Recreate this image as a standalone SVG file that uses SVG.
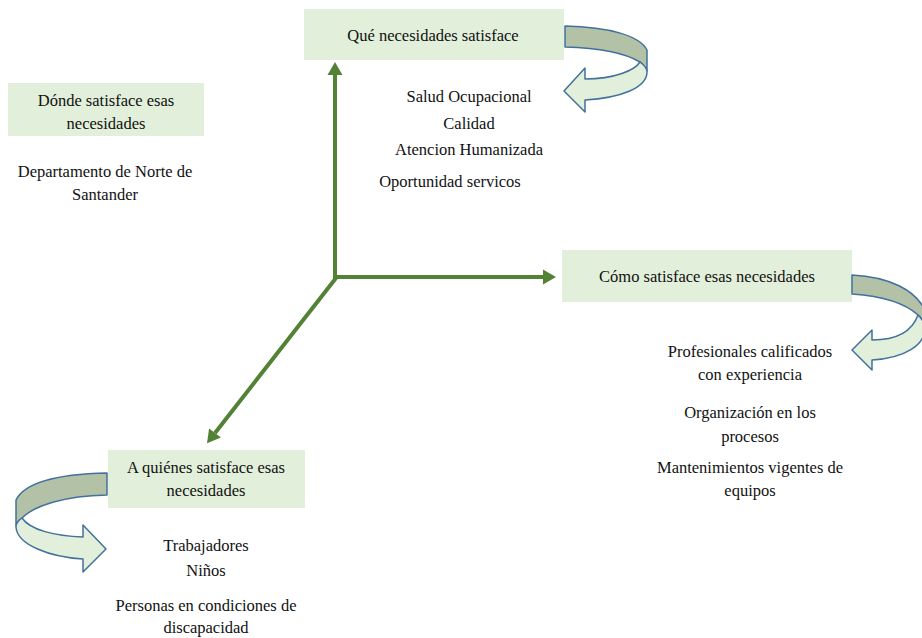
<svg xmlns="http://www.w3.org/2000/svg" width="922" height="638" viewBox="0 0 922 638">
<style>
.box{fill:#e2efda;}
.t{font-family:"Liberation Serif","Times New Roman",serif;font-size:16.5px;fill:#111;text-anchor:middle;}
.axis{stroke:#538135;stroke-width:4;fill:none;}
.dark{fill:#b3c2a7;stroke:#41719c;stroke-width:1.5;stroke-linejoin:round;}
.light{fill:#e2efda;stroke:#41719c;stroke-width:1.5;stroke-linejoin:round;}
</style>
<defs>
<marker id="ah" markerUnits="userSpaceOnUse" markerWidth="14" markerHeight="15" refX="0" refY="7.5" orient="auto" overflow="visible">
<path d="M0,0 L13,7.5 L0,15 z" fill="#538135"/>
</marker>
</defs>
<rect width="922" height="638" fill="#fff"/>

<g id="connectors">
<path class="axis" d="M335,279 L335,75" marker-end="url(#ah)"/>
<path class="axis" d="M333,277 L543,277" marker-end="url(#ah)"/>
<path class="axis" d="M336,278 L215,433" marker-end="url(#ah)"/>
</g>

<g id="que">
<rect class="box" x="304" y="9" width="260" height="51"/>
<text class="t" x="433" y="41">Qué necesidades satisface</text>
<path class="dark" d="M565,26 C610,27 640,36 647,50 L647,71 C645,66 643,64 640,62 C625,53 600,48 565,47 Z"/>
<path class="light" d="M640,62 C644,65 647,68 647,72 C647,88 620,98 585,100 L585,112 L564,91 L585,68 L585,79 C615,79 635,70 640,62 Z"/>
<text class="t" x="469" y="102">Salud Ocupacional</text>
<text class="t" x="469" y="129">Calidad</text>
<text class="t" x="469" y="155">Atencion Humanizada</text>
<text class="t" x="450" y="187">Oportunidad servicos</text>
</g>

<g id="donde">
<rect class="box" x="8" y="83" width="196" height="53"/>
<text class="t" x="106" y="106">Dónde satisface esas</text>
<text class="t" x="106" y="129">necesidades</text>
<text class="t" x="105" y="177">Departamento de Norte de</text>
<text class="t" x="105" y="200">Santander</text>
</g>

<g id="como">
<rect class="box" x="562" y="250" width="290" height="52"/>
<text class="t" x="707" y="282">Cómo satisface esas necesidades</text>
<path class="dark" d="M852,275 C890,277 915,290 925,310 L925,322 C922,319 920,317 918,315 C905,303 880,296 852,294 Z"/>
<path class="light" d="M918,315 C922,319 925,324 925,328 C925,345 905,358 872,360 L872,370 L852,350 L872,330 L872,340 C895,340 912,332 918,315 Z"/>
<text class="t" x="750" y="357">Profesionales calificados</text>
<text class="t" x="750" y="380">con experiencia</text>
<text class="t" x="750" y="418">Organización en los</text>
<text class="t" x="750" y="442">procesos</text>
<text class="t" x="750" y="473">Mantenimientos vigentes de</text>
<text class="t" x="750" y="496">equipos</text>
</g>

<g id="quienes">
<rect class="box" x="108" y="450" width="197" height="58"/>
<text class="t" x="206" y="473">A quiénes satisface esas</text>
<text class="t" x="206" y="496">necesidades</text>
<path class="dark" d="M107,473 C60,474 25,482 16,500 L16,526 C17,522 19,520 22,518 C35,505 65,496 107,495 Z"/>
<path class="light" d="M22,518 C30,530 55,536 83,537 L83,525 L106,549 L83,572 L83,559 C50,557 17,545 16,527 C16,523 19,520 22,518 Z"/>
<text class="t" x="206" y="551">Trabajadores</text>
<text class="t" x="206" y="576">Niños</text>
<text class="t" x="206" y="611">Personas en condiciones de</text>
<text class="t" x="206" y="633">discapacidad</text>
</g>
</svg>
